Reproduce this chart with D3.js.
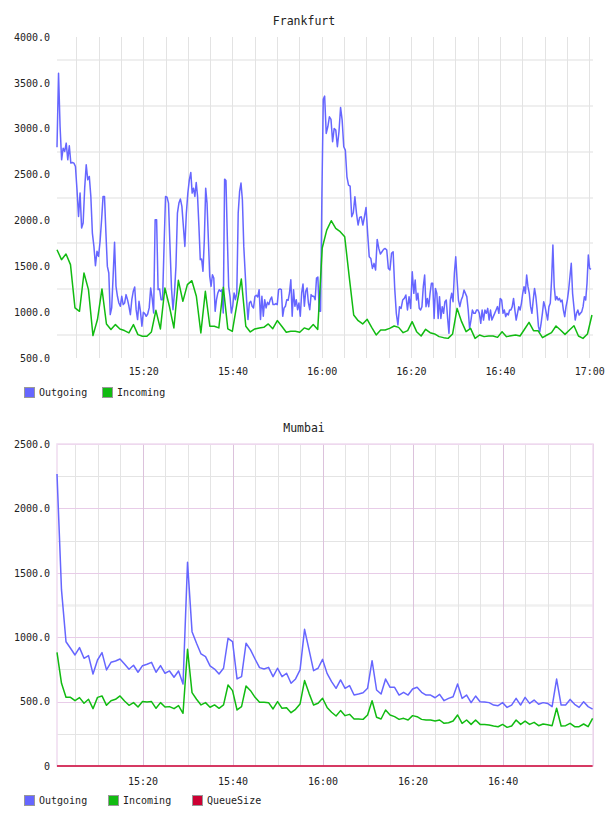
<!DOCTYPE html>
<html>
<head>
<meta charset="utf-8">
<script src="https://cdn.jsdelivr.net/npm/d3@7"></script>
<style>
body { margin: 0; background: #fff; }
text { font-family: "DejaVu Sans Mono", monospace; fill: #222; }
</style>
</head>
<body>
<div id="chart-area"></div>
<script>

// Frankfurt: Outgoing sampled in 10-minute blocks, Incoming once a minute
var fraStart = "15:00:40",
    fraEnd = "17:00:36";
var fraOutgoing = [
    [2799,3605,3024,2661,2788,2752,2843,2661,2813,2625,2632,2625,2588,2334,2044,2298,1917,1971,2352,2607,2443,2480,2262,1862,1717,1507,1663,1608,1772],
    [2008,2262,2262,1862,1499,1427,973,1046,1390,1761,1282,1173,1100,1064,1173,1082,1100,1191,1136,1064,973,1136,1227,1274,1027,919,1118,1009,846,998,984],
    [955,980,1046,1263,1154,991,2008,2008,1245,1253,1136,1136,1717,2262,2254,2189,1717,1263,1027,1209,1499,2080,2189,2233,2153,1935,1717,2080,2298,2443],
    [2523,2298,2352,2262,2414,2262,1935,1572,1579,1445,1790,2352,2189,1790,1390,1282,1408,1372,1009,1136,1209,1245,1227,1245,991,2450,2436,1826,1282,1173,991,1064,1209],
    [1136,1209,2080,2316,2407,2225,1717,1427,1136,919,1100,1118,1064,1046,1173,1184,1165,1245,919,1173,955,1136,1046,1107,1082,1136,1165,1082,1082,1093,1082,1245],
    [1253,1245,955,1046,1064,1136,1129,1209,1354,955,1245,1064,1136,1027,1100,955,1209,1307,1064,1227,1263,1100,1027,1191,1173,1173,1136,1372,1383,1009,1009,2298,3322],
    [3356,2949,3021,3130,3101,2858,3003,2985,2803,2967,3232,3094,2803,2767,2476,2386,2375,2040,2084,2258,2077,1950,2033,2040,1950,2040,2142,1859],
    [1604,1586,1477,1532,1459,1793,1695,1634,1659,1684,1695,1677,1477,1459,1641,1659,1259,987,860,1060,1041,1132,1150,1187,1023,1169,1041,1441],
    [1205,1350,1132,1205,1041,1023,1060,1278,1405,1060,1150,1060,1205,1314,1314,932,1259,1205,932,1169,932,1060,987,1114,1132,932,769,1132,1205,1114,1423,1604,1350],
    [1132,1060,1132,1169,1241,1205,1169,1023,823,914,1023,987,987,1023,1023,987,878,1023,914,1023,987,1041,914,1023,914,951,987,1023,1060,987,1150,1132],
    [987,1023,951,987,969,1023,1023,1060,1150,1023,914,987,1060,1023,1096,1205,1278,1205,1405,1278,1205,1060,987,1132,1259,1169,1023,842,787,878,987,1114,1060,987],
    [914,1060,1096,1350,1732,1278,1132,1169,1132,1150,1114,1132,1023,951,1060,1132,1241,1387,1532,1205,1060,914,987,1023,969,987,1005,1060,1169,1132,1314,1623,1477,1466]
];
var fraIncoming = [1681,1572,1634,1518,1046,1009,1427,1245,744,919,
    1253,871,810,864,817,799,773,864,755,737,
    737,784,1020,817,1263,1064,828,1347,1118,1300,
    1343,1173,773,1227,846,846,828,1271,817,791,
    1082,1361,846,784,817,828,835,871,820,908,
    846,781,791,791,781,828,810,864,810,1700,
    1895,1997,1913,1877,1822,1387,969,907,871,922,
    834,751,805,805,823,849,834,776,798,896,
    787,740,813,776,762,733,722,714,762,1041,
    896,787,823,714,751,733,740,740,725,787,
    733,743,751,740,813,889,798,798,722,751,
    776,849,805,758,805,852,740,714,762,969];
var fraYTicks = [500,1000,1500,2000,2500,3000,3500,4000];
var fraGridY = [750,1250,1750,2250,2750,3250,3750];
var fraXTicks = ["15:20","15:40","16:00","16:20","16:40","17:00"];

// Mumbai: one sample per minute
var mumStart = "15:01:00",
    mumEnd = "17:00:00";
var mumOutgoing = [2267,1367,965,914,862,919,836,857,714,823,
    880,746,805,815,831,792,751,782,728,779,
    790,805,728,779,720,738,689,738,637,1581,
    1043,953,870,849,777,753,714,759,991,965,
    676,694,953,901,831,764,753,766,694,759,
    694,720,642,676,746,1061,901,740,759,828,
    719,655,603,668,603,624,551,559,569,603,
    818,590,559,675,611,611,551,572,551,598,
    611,572,551,551,530,556,507,525,538,637,
    525,551,492,543,499,497,492,473,468,492,
    455,473,525,473,533,486,512,479,492,486,
    461,675,473,473,517,479,455,499,461,442];
var mumIncoming = [883,642,533,533,507,531,487,518,445,533,
    544,471,507,518,544,505,471,492,458,500,
    497,500,448,492,458,461,445,469,409,906,
    570,518,474,492,456,474,448,474,629,585,
    435,461,621,585,533,494,494,492,443,500,
    448,453,414,440,482,663,564,474,487,526,
    455,417,388,430,391,401,365,365,362,396,
    507,378,365,435,396,383,362,370,357,391,
    383,362,357,357,349,357,331,336,349,396,
    331,357,323,357,323,323,318,311,305,323,
    300,311,357,323,349,323,339,313,326,321,
    313,448,311,313,331,305,305,326,305,370];
var mumQueueSize = [0,0,0,0,0,0,0,0,0,0, 0,0,0,0,0,0,0,0,0,0,
    0,0,0,0,0,0,0,0,0,0, 0,0,0,0,0,0,0,0,0,0,
    0,0,0,0,0,0,0,0,0,0, 0,0,0,0,0,0,0,0,0,0,
    0,0,0,0,0,0,0,0,0,0, 0,0,0,0,0,0,0,0,0,0,
    0,0,0,0,0,0,0,0,0,0, 0,0,0,0,0,0,0,0,0,0,
    0,0,0,0,0,0,0,0,0,0, 0,0,0,0,0,0,0,0,0,0];
var mumYTicks = [0,500,1000,1500,2000,2500];
var mumXTicks = ["15:20","15:40","16:00","16:20","16:40"];

var seriesNames = ["Outgoing", "Incoming", "QueueSize"];
var seriesColors = ["#6666ff", "#11bb11", "#cc0033"];

// Page setup
var width = 608,
    height = 816;
var left = 57,
    right = 593;

var parseTime = d3.timeParse("%H:%M:%S");
var parseTick = d3.timeParse("%H:%M");
var fmtY = d3.format(".1f");

var svg = d3.select("#chart-area")
    .append("svg")
    .attr("width", width)
    .attr("height", height);

// evenly spread values between two times
function spread(values, t0, t1) {
    var step = (t1 - t0) / (values.length - 1);
    return values.map(function(v, i) { return {t: new Date(+t0 + i * step), v: v}; });
}

// Frankfurt outgoing: each block fills 10 minutes
function blocks(list, t0) {
    var out = [];
    list.forEach(function(b, k) {
        var bs = +t0 + k * 600000;
        b.forEach(function(v, i) {
            out.push({t: new Date(bs + i * 600000 / b.length), v: v});
        });
    });
    return out;
}

function drawLegend(y, xs, n) {
    var lg = svg.append("g");
    for (var i = 0; i < n; i++) {
        lg.append("rect")
            .attr("x", xs[i] + 0.5).attr("y", y + 0.5)
            .attr("width", 10).attr("height", 10)
            .attr("fill", seriesColors[i])
            .attr("stroke", "#999");
        lg.append("text")
            .attr("x", xs[i] + 15).attr("y", y + 9)
            .attr("font-size", 10)
            .text(seriesNames[i]);
    }
}

function drawAxes(x, y, top, bottom, yTicks, xTicks, pad) {
    var yAxis = d3.axisLeft(y)
        .tickValues(yTicks)
        .tickFormat(function(d) { return d === 0 ? "0" : fmtY(d); })
        .tickSize(0)
        .tickPadding(7);
    var gy = svg.append("g")
        .attr("transform", "translate(" + left + ",0)")
        .call(yAxis);
    gy.select(".domain").remove();
    gy.selectAll("text").attr("font-family", "DejaVu Sans Mono").attr("font-size", 10).attr("fill", "#222");

    var xAxis = d3.axisBottom(x)
        .tickValues(xTicks.map(parseTick))
        .tickFormat(d3.timeFormat("%H:%M"))
        .tickSize(0)
        .tickPadding(pad);
    var gx = svg.append("g")
        .attr("transform", "translate(0," + bottom + ")")
        .call(xAxis);
    gx.select(".domain").remove();
    gx.selectAll("text").attr("font-family", "DejaVu Sans Mono").attr("font-size", 10).attr("fill", "#222");
}

function drawLine(data, x, y, color) {
    var line = d3.line()
        .x(function(d) { return x(d.t); })
        .y(function(d) { return y(d.v); });
    svg.append("path")
        .datum(data)
        .attr("fill", "none")
        .attr("stroke", color)
        .attr("stroke-width", 1.5)
        .attr("stroke-linejoin", "round")
        .attr("d", line);
}

// ---------- Frankfurt ----------
(function() {
    var top = 37, bottom = 358;
    var t0 = parseTime(fraStart), t1 = parseTime(fraEnd);

    var x = d3.scaleTime()
        .domain([t0, parseTime("17:00:50")])
        .range([left, right]);
    var y = d3.scaleLinear()
        .domain([500, 4000])
        .range([bottom, top]);

    svg.append("text")
        .attr("x", width / 2).attr("y", 25)
        .attr("text-anchor", "middle")
        .attr("font-size", 11.5)
        .text("Frankfurt");

    var grid = svg.append("g");
    grid.selectAll(".gy")
        .data(fraGridY)
        .enter().append("line")
        .attr("x1", left).attr("x2", right)
        .attr("y1", function(d) { return Math.round(y(d)); })
        .attr("y2", function(d) { return Math.round(y(d)); })
        .attr("stroke", "#efefef")
        .attr("stroke-width", 2);
    grid.selectAll(".gx")
        .data(x.ticks(d3.timeMinute.every(5)))
        .enter().append("line")
        .attr("x1", function(d) { return Math.round(x(d)) + 0.5; })
        .attr("x2", function(d) { return Math.round(x(d)) + 0.5; })
        .attr("y1", top).attr("y2", bottom)
        .attr("stroke", "#e3e3e3")
        .attr("stroke-width", 1);

    drawLine(blocks(fraOutgoing, t0), x, y, seriesColors[0]);
    drawLine(spread(fraIncoming, t0, t1), x, y, seriesColors[1]);

    drawAxes(x, y, top, bottom, fraYTicks, fraXTicks, 10);
    drawLegend(387, [24, 102], 2);
})();

// ---------- Mumbai ----------
(function() {
    var top = 444, bottom = 766;
    var t0 = parseTime(mumStart), t1 = parseTime(mumEnd);

    var x = d3.scaleTime()
        .domain([t0, parseTime("17:00:05")])
        .range([left, right]);
    var y = d3.scaleLinear()
        .domain([0, 2500])
        .range([bottom, top]);

    svg.append("text")
        .attr("x", width / 2).attr("y", 432)
        .attr("text-anchor", "middle")
        .attr("font-size", 11.5)
        .text("Mumbai");

    var grid = svg.append("g");
    var minor = mumYTicks.slice(0, -1).map(function(d) { return d + 250; });
    grid.selectAll(".gym")
        .data(minor)
        .enter().append("line")
        .attr("x1", left).attr("x2", right)
        .attr("y1", function(d) { return Math.round(y(d)) + 0.5; })
        .attr("y2", function(d) { return Math.round(y(d)) + 0.5; })
        .attr("stroke", function(d) { return d === 1250 ? "#f0f0f0" : "#e4e4e4"; })
        .attr("stroke-width", function(d) { return d === 1250 ? 2.5 : 1; });
    var xt = x.ticks(d3.timeMinute.every(5));
    grid.selectAll(".gxm")
        .data(xt.filter(function(d) { return d.getMinutes() % 20 !== 0; }))
        .enter().append("line")
        .attr("x1", function(d) { return Math.round(x(d)) + 0.5; })
        .attr("x2", function(d) { return Math.round(x(d)) + 0.5; })
        .attr("y1", top).attr("y2", bottom)
        .attr("stroke", "#e4e4e4");
    grid.selectAll(".gyM")
        .data(mumYTicks.slice(1))
        .enter().append("line")
        .attr("x1", left).attr("x2", right)
        .attr("y1", function(d) { return Math.round(y(d)) + 0.5; })
        .attr("y2", function(d) { return Math.round(y(d)) + 0.5; })
        .attr("stroke", "#e8cce8");
    grid.selectAll(".gxM")
        .data(xt.filter(function(d) { return d.getMinutes() % 20 === 0; }))
        .enter().append("line")
        .attr("x1", function(d) { return Math.round(x(d)) + 0.5; })
        .attr("x2", function(d) { return Math.round(x(d)) + 0.5; })
        .attr("y1", top).attr("y2", bottom)
        .attr("stroke", "#dcc2dc");
    grid.append("rect")
        .attr("x", left).attr("y", top)
        .attr("width", right - left).attr("height", bottom - top)
        .attr("fill", "none")
        .attr("stroke", "#f0dcf0")
        .attr("stroke-width", 1.5);

    drawLine(spread(mumOutgoing, t0, t1), x, y, seriesColors[0]);
    drawLine(spread(mumIncoming, t0, t1), x, y, seriesColors[1]);
    drawLine(spread(mumQueueSize, t0, t1), x, y, seriesColors[2]);

    drawAxes(x, y, top, bottom, mumYTicks, mumXTicks, 12);
    drawLegend(795, [24, 108, 192], 3);
})();

</script>
</body>
</html>
